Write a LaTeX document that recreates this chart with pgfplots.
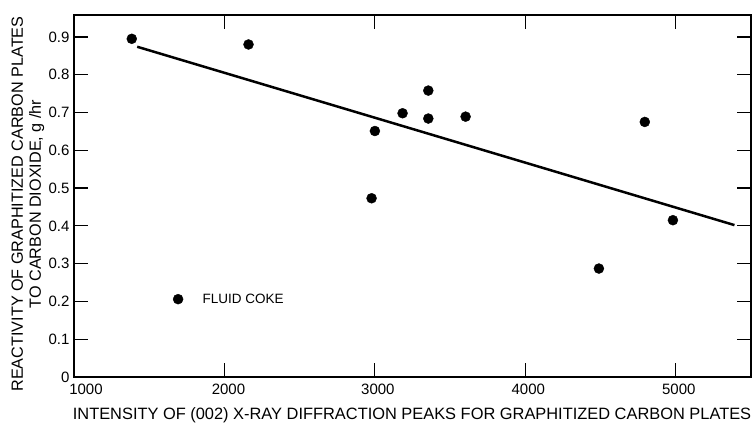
\documentclass[border=0pt]{standalone}
\usepackage{fontspec}
\setmainfont{Liberation Sans}
\usepackage{pgfplots}
\pgfplotsset{compat=1.18}
\begin{document}
\begin{tikzpicture}
\useasboundingbox (-74pt,-49pt) rectangle (680pt,377pt);
\begin{axis}[
  at={(0pt,0pt)}, anchor=south west,
  width=677pt, height=362pt, scale only axis,
  xmin=1000, xmax=5500, ymin=0, ymax=0.958,
  xtick={1000,2000,3000,4000,5000},
  xticklabels={\hspace{24pt}1000,\hspace{8pt}2000,\hspace{6pt}3000,\hspace{6pt}4000,\hspace{6pt}5000},
  ytick={0,0.1,0.2,0.3,0.4,0.5,0.6,0.7,0.8,0.9},
  yticklabels={0,0.1,0.2,0.3,0.4,0.5,0.6,0.7,0.8,0.9},
  tick align=inside, major tick length=14pt,
  tick style={line width=1.2pt,black},
  axis line style={line width=1.5pt},
  tick label style={font=\fontsize{15}{15}\selectfont},
  xticklabel style={yshift=-3pt},
  yticklabel style={xshift=-1pt},
  /pgf/number format/assume math mode=true,
  clip=false,
]
\addplot[only marks, mark=*, mark size=5pt, black] coordinates {
 (1384,0.895) (2160,0.880) (3000,0.651) (2978,0.473) (3184,0.698)
 (3355,0.758) (3355,0.684) (3603,0.689) (4794,0.675) (4981,0.415) (4489,0.287)};
\addplot[line width=2.5pt, black] coordinates {(1420,0.874) (5390,0.402)};
\addplot[only marks, mark=*, mark size=5pt, black] coordinates {(1692,0.206)};
\node[anchor=west, font=\fontsize{13.5}{13.5}\selectfont] at (axis cs:1832,0.206) {FLUID COKE};
\end{axis}
\node[font=\fontsize{16.4}{16.4}\selectfont] at (338pt,-38pt) {INTENSITY OF (002) X-RAY DIFFRACTION PEAKS FOR GRAPHITIZED CARBON PLATES};
\node[rotate=90, align=center, font=\fontsize{16.2}{18}\selectfont] at (-46pt,173pt) {REACTIVITY OF GRAPHITIZED CARBON PLATES\\TO CARBON DIOXIDE, g /hr};
\end{tikzpicture}
\end{document}
